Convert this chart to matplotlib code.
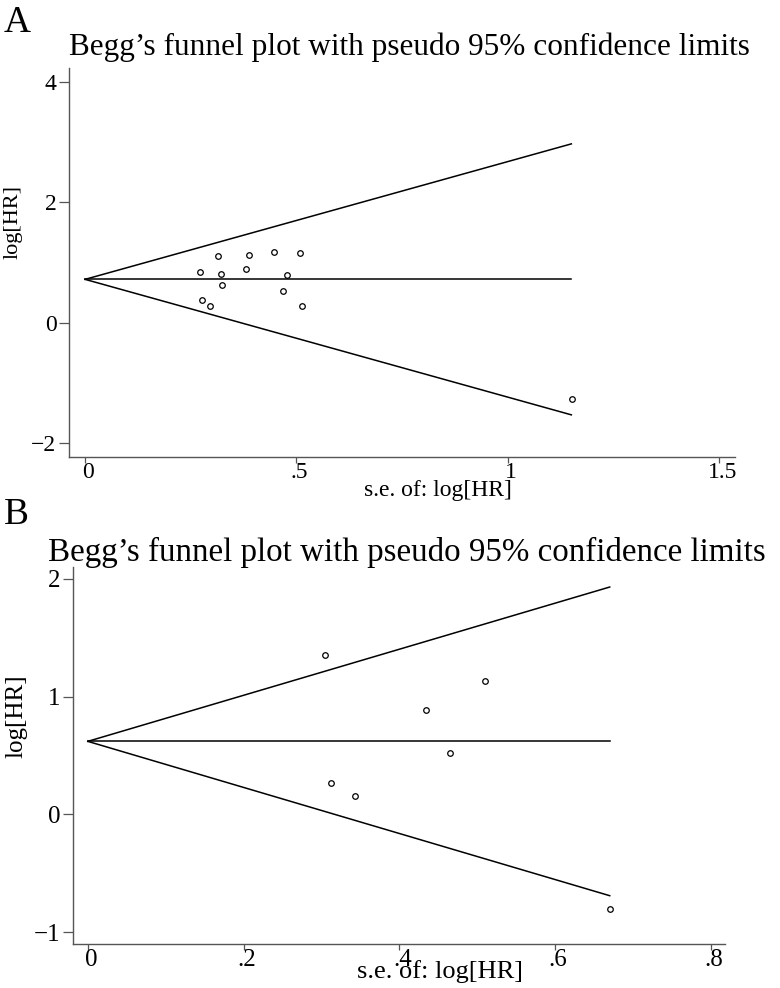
import matplotlib
matplotlib.use("Agg")
import matplotlib.pyplot as plt
import matplotlib.transforms as mtransforms

plt.rcParams['font.family'] = ['Liberation Serif', 'DejaVu Serif']

# panel A: s.e. of log[HR] and log[HR] for each study
se_a = [0.272, 0.315, 0.387, 0.446, 0.508, 0.321, 0.381, 0.478,
        0.324, 0.468, 0.276, 0.296, 0.513, 1.151]
loghr_a = [0.85, 1.11, 1.13, 1.18, 1.16, 0.81, 0.90, 0.80,
           0.63, 0.52, 0.38, 0.27, 0.27, -1.26]
# pooled estimate and funnel limits (at se = 0 and at max se)
funnel_se_a = [0, 1.15]
pooled_a = [0.72, 0.72]
upper_a = [0.72, 2.97]
lower_a = [0.72, -1.53]
xticks_a = [0, 0.5, 1, 1.5]
xticklabels_a = ["0", ".5", "1", "1.5"]
yticks_a = [-2, 0, 2, 4]

# panel B
se_b = [0.305, 0.510, 0.434, 0.465, 0.312, 0.343, 0.671]
loghr_b = [1.35, 1.13, 0.89, 0.52, 0.27, 0.16, -0.80]
funnel_se_b = [0, 0.67]
pooled_b = [0.62, 0.62]
upper_b = [0.62, 1.93]
lower_b = [0.62, -0.69]
xticks_b = [0, 0.2, 0.4, 0.6, 0.8]
xticklabels_b = ["0", ".2", ".4", ".6", ".8"]
yticks_b = [-1, 0, 1, 2]

title = "Begg\u2019s funnel plot with pseudo 95% confidence limits"

fig = plt.figure(figsize=(7.8, 9.88), dpi=100)


def funnel(rect, se, lhr, fse, pooled, up, lo, xt, xtl, yt, xlim, ylim, fs):
    ax = fig.add_axes(rect)
    ax.plot(fse, up, color="black", lw=1.1)
    ax.plot(fse, lo, color="black", lw=1.1)
    ax.plot(fse, pooled, color="black", lw=1.1)
    ax.plot(se, lhr, "o", mfc="none", mec="black", ms=4, mew=0.9)
    ax.set_xlim(xlim)
    ax.set_ylim(ylim)
    ax.set_xticks(xt)
    ax.set_xticklabels(xtl)
    ax.set_yticks(yt)
    for s in ["top", "right"]:
        ax.spines[s].set_visible(False)
    for s in ["left", "bottom"]:
        ax.spines[s].set_color("#555555")
        ax.spines[s].set_linewidth(1.0)
    ax.tick_params(axis="x", length=4.5, width=0.9, color="#555555",
                   labelsize=fs, pad=-1)
    ax.tick_params(axis="y", length=7, width=0.9, color="#555555",
                   labelsize=fs, pad=2)
    off = mtransforms.ScaledTranslation(3 / 100, 0, fig.dpi_scale_trans)
    for lab in ax.get_xticklabels():
        lab.set_transform(lab.get_transform() + off)
    return ax


ax_a = funnel([69 / 780, 1 - 457 / 988, 666 / 780, 389 / 988],
              se_a, loghr_a, funnel_se_a, pooled_a, upper_a, lower_a,
              xticks_a, xticklabels_a, yticks_a, (-0.038, 1.537), (-2.23, 4.23), 17)
ax_b = funnel([73 / 780, 1 - 944 / 988, 652 / 780, 377 / 988],
              se_b, loghr_b, funnel_se_b, pooled_b, upper_b, lower_b,
              xticks_b, xticklabels_b, yticks_b, (-0.019, 0.818), (-1.10, 2.10), 18)

# panel letters, titles, axis labels (figure pixel positions)
def ftxt(x, y, s, **kw):
    fig.text(x / 780, 1 - y / 988, s, **kw)

ftxt(4, 32, "A", fontsize=27, ha="left", va="baseline")
ftxt(69, 55, title, fontsize=22.5, ha="left", va="baseline")
ftxt(13, 222, "log[HR]", fontsize=16, rotation=90, ha="center", va="center")
ftxt(438, 490, "s.e. of: log[HR]", fontsize=17, ha="center", va="center")

ftxt(4, 524, "B", fontsize=27, ha="left", va="baseline")
ftxt(48, 561, title, fontsize=23.8, ha="left", va="baseline")
ftxt(16, 716, "log[HR]", fontsize=18, rotation=90, ha="center", va="center")
ftxt(440, 972, "s.e. of: log[HR]", fontsize=19, ha="center", va="center")

fig.savefig("out.png", dpi=100)
